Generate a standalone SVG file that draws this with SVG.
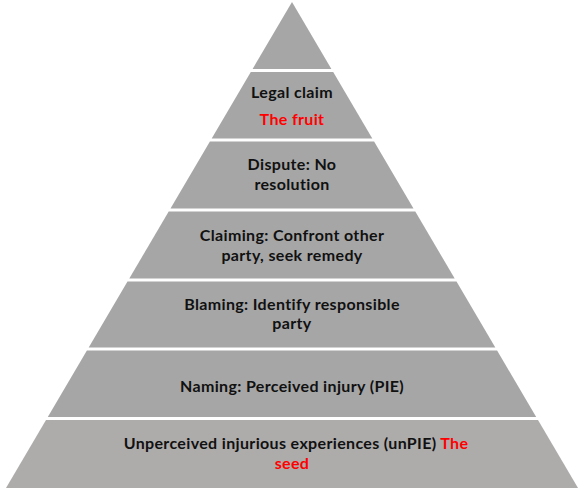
<svg xmlns="http://www.w3.org/2000/svg" width="584" height="491" viewBox="0 0 584 491">
<style>
.layer{fill:#a6a6a6}
.base{fill:#aeabab}
text{font-family:Lato,"Liberation Sans",sans-serif;font-weight:bold;font-size:16px;letter-spacing:0.35px;fill:#111;text-anchor:middle}
.red{fill:#ff0000}
</style>
<rect width="584" height="491" fill="#ffffff"/>
<g id="apex"><polygon class="layer" points="292,2 331.4,69 252.6,69"/></g>
<g id="legal-claim">
<polygon class="layer" points="250.8,72 333.2,72 372.3,138.5 211.7,138.5"/>
<text x="292" y="98">Legal claim</text>
<text x="292" y="125" class="red">The fruit</text>
</g>
<g id="dispute">
<polygon class="layer" points="209.9,141.5 374.1,141.5 413.5,208.5 170.5,208.5"/>
<text x="292" y="170">Dispute: No</text>
<text x="292" y="189.5">resolution</text>
</g>
<g id="claiming">
<polygon class="layer" points="168.7,211.5 415.3,211.5 454.7,278.5 129.3,278.5"/>
<text x="292" y="241">Claiming: Confront other</text>
<text x="292" y="260.5">party, seek remedy</text>
</g>
<g id="blaming">
<polygon class="layer" points="127.5,281.5 456.5,281.5 495.3,347.5 88.7,347.5"/>
<text x="292" y="309.5">Blaming: Identify responsible</text>
<text x="292" y="329">party</text>
</g>
<g id="naming">
<polygon class="layer" points="86.9,350.5 497.1,350.5 536.2,417 47.8,417"/>
<text x="292" y="391.5">Naming: Perceived injury (PIE)</text>
</g>
<g id="unpie">
<polygon class="base" points="46,420 538,420 578,488 6,488"/>
<text x="296" y="449">Unperceived injurious experiences (unPIE) <tspan class="red">The</tspan></text>
<text x="292" y="468.5" class="red">seed</text>
</g>
<g id="connectors"></g>
</svg>
